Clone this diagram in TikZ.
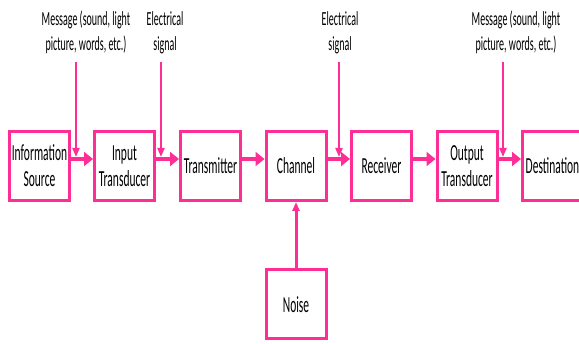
\documentclass[tikz,border=0pt]{standalone}
\usepackage{fontspec}
\setmainfont[FakeStretch=0.5]{Carlito}
\usepackage{tikz}
\usetikzlibrary{arrows.meta}
\usepackage{xcolor}
\definecolor{hotpink}{RGB}{255, 45, 150}
\tikzset{
  blok/.style={draw=hotpink, line width=3pt, minimum width=60pt, minimum height=69pt,
    inner sep=0pt, align=center, font=\fontsize{23}{26}\selectfont},
  lbl/.style={align=center, inner sep=0pt, font=\fontsize{20}{25}\selectfont},
  flow/.style={draw=hotpink, line width=4pt, -{Triangle[length=9pt,width=14pt]}},
  feed/.style={draw=hotpink, line width=2pt, -{Triangle[length=9pt,width=7pt]}}
}

\begin{document}
\begin{tikzpicture}[x=1pt,y=-1pt]
\useasboundingbox (0,0) rectangle (579,344);
\node[blok] (src) at (39.5,166) {Information\\Source};
\node[blok] (itx) at (124.5,166) {Input\\Transducer};
\node[blok] (tx) at (210.5,166) {Transmitter};
\node[blok] (chan) at (296,166) {Channel};
\node[blok] (rx) at (381.5,166) {Receiver};
\node[blok] (otx) at (467,166) {Output\\Transducer};
\node[blok] (dst) at (552.5,166) {Destination};
\node[blok] (noise) at (296,304.5) {Noise};
\node[lbl] (msgin) at (86,32.5) {Message (sound, light\\picture, words, etc.)};
\node[lbl] (elin) at (165,32.5) {Electrical\\signal};
\node[lbl] (elout) at (340,32.5) {Electrical\\signal};
\node[lbl] (msgout) at (516,32.5) {Message (sound, light\\picture, words, etc.)};
\coordinate (m1) at (76,62);
\coordinate (e1) at (161,62);
\coordinate (e2) at (339,62);
\coordinate (m2) at (503,62);
\draw[flow] ([yshift=7pt]src.east) -- ([yshift=7pt]itx.west);
\draw[flow] ([yshift=7pt]itx.east) -- ([yshift=7pt]tx.west);
\draw[flow] ([yshift=7pt]tx.east) -- ([yshift=7pt]chan.west);
\draw[flow] ([yshift=7pt]chan.east) -- ([yshift=7pt]rx.west);
\draw[flow] ([yshift=7pt]rx.east) -- ([yshift=7pt]otx.west);
\draw[flow] ([yshift=7pt]otx.east) -- ([yshift=7pt]dst.west);
\draw[feed] (m1) -- ([yshift=9pt]src.east -| m1);
\draw[feed] (e1) -- ([yshift=9pt]itx.east -| e1);
\draw[feed] (e2) -- ([yshift=9pt]chan.east -| e2);
\draw[feed] (m2) -- ([yshift=9pt]otx.east -| m2);
\draw[feed, line width=3pt] (noise.north) -- (chan.south);
\end{tikzpicture}
\end{document}
